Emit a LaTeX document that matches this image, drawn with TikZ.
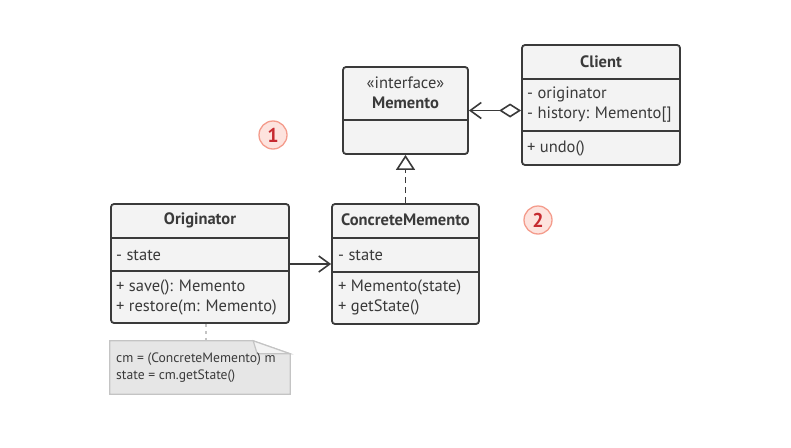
\documentclass[tikz,border=0pt]{standalone}
\usepackage{fontspec}
\setmainfont{PT Sans}
\usetikzlibrary{arrows.meta}
\definecolor{ink}{HTML}{3A3A3A}
\definecolor{boxfill}{HTML}{F3F3F3}
\definecolor{notefill}{HTML}{E6E6E6}
\definecolor{noteline}{HTML}{C4C4C4}
\definecolor{badgefill}{HTML}{FDE3DE}
\definecolor{badgeline}{HTML}{F49C8C}
\definecolor{badgetext}{HTML}{C62A30}

\begin{document}
\begin{tikzpicture}[x=1pt, y=-1pt,
  font=\fontsize{16.5}{20}\selectfont, text=ink,
  frame/.style={draw=ink, line width=1.8pt, fill=boxfill, rounded corners=3pt, inner sep=0pt},
  divider/.style={draw=ink, line width=1.8pt},
  title/.style={inner sep=0pt, font=\fontsize{16.5}{18}\selectfont\bfseries},
  member/.style={anchor=west, inner sep=0pt, align=left},
  link/.style={draw=ink, line width=1.6pt},
  badge/.style={circle, draw=badgeline, line width=1.3pt, fill=badgefill, text=badgetext, minimum size=28pt, inner sep=0pt, font=\fontsize{20}{20}\selectfont\bfseries}
]
  \useasboundingbox (0,0) rectangle (791,447);

  % Memento interface
  \node[frame, minimum width=125, minimum height=87] (memento) at (405.5,110.5) {};
  \draw[divider] (memento.west |- 0,120) -- (memento.east |- 0,120);
  \node[inner sep=0pt] (stereo) at (405.5,83) {«interface»};
  \node[title] (mementoname) at (405.5,103) {Memento};

  % Client
  \node[frame, minimum width=158, minimum height=120] (client) at (601,105) {};
  \draw[divider] (client.west |- 0,79) -- (client.east |- 0,79);
  \draw[divider] (client.west |- 0,131) -- (client.east |- 0,131);
  \node[title] (clientname) at (601,62) {Client};
  \node[member] (clientfields) at (527,105) {- originator\\- history: Memento[]};
  \node[member] (clientops) at (527,148) {+ undo()};

  % Originator
  \node[frame, minimum width=178, minimum height=119] (orig) at (200,263.5) {};
  \draw[divider] (orig.west |- 0,238) -- (orig.east |- 0,238);
  \draw[divider] (orig.west |- 0,271) -- (orig.east |- 0,271);
  \node[title] (origname) at (200,220) {Originator};
  \node[member] (origfields) at (116,255) {- state};
  \node[member] (origops) at (116,297) {+ save(): Memento\\+ restore(m: Memento)};

  % ConcreteMemento
  \node[frame, minimum width=147, minimum height=120] (concrete) at (405.5,264) {};
  \draw[divider] (concrete.west |- 0,238) -- (concrete.east |- 0,238);
  \draw[divider] (concrete.west |- 0,272) -- (concrete.east |- 0,272);
  \node[title] (concretename) at (405.5,220) {ConcreteMemento};
  \node[member] (concretefields) at (338,255) {- state};
  \node[member] (concreteops) at (338,297) {+ Memento(state)\\+ getState()};

  % note
  \node[minimum width=180, minimum height=53, inner sep=0pt] (note) at (200,367.5) {};
  \filldraw[fill=notefill, draw=noteline, line width=1.2pt]
    (note.north west) -- ([xshift=-37pt]note.north east) -- ([yshift=-13pt]note.north east)
    -- (note.south east) -- (note.south west) -- cycle;
  \filldraw[fill=boxfill, draw=noteline, line width=1.2pt]
    ([xshift=-37pt]note.north east) -- ([xshift=-33pt,yshift=-13pt]note.north east) -- ([yshift=-13pt]note.north east) -- cycle;
  \node[member, font=\fontsize{13.6}{17}\selectfont] (notetext) at (116,367.5) {cm = (ConcreteMemento) m\\state = cm.getState()};

  % connectors
  \draw[link, {Diamond[open, length=22pt, width=14pt, line width=1.6pt]}-{Straight Barb[length=11pt, width=16pt, line width=1.6pt]}]
    (client.west |- memento.east) -- (memento.east);
  \draw[link, dashed, dash pattern=on 6pt off 4pt, -{Triangle[open, length=15pt, width=19pt, line width=1.6pt, fill=white]}]
    (concrete.north) -- (memento.south);
  \draw[link, -{Straight Barb[length=11pt, width=16pt, line width=1.6pt]}]
    (orig.east |- 0,264) -- (concrete.west |- 0,264);
  \draw[draw=noteline, line width=1.2pt, dash pattern=on 3pt off 4pt] (orig.south -| 206,0) -- (note.north -| 206,0);

  % steps
  \node[badge] (one) at (273,135) {1};
  \node[badge] (two) at (538,220) {2};
\end{tikzpicture}
\end{document}
